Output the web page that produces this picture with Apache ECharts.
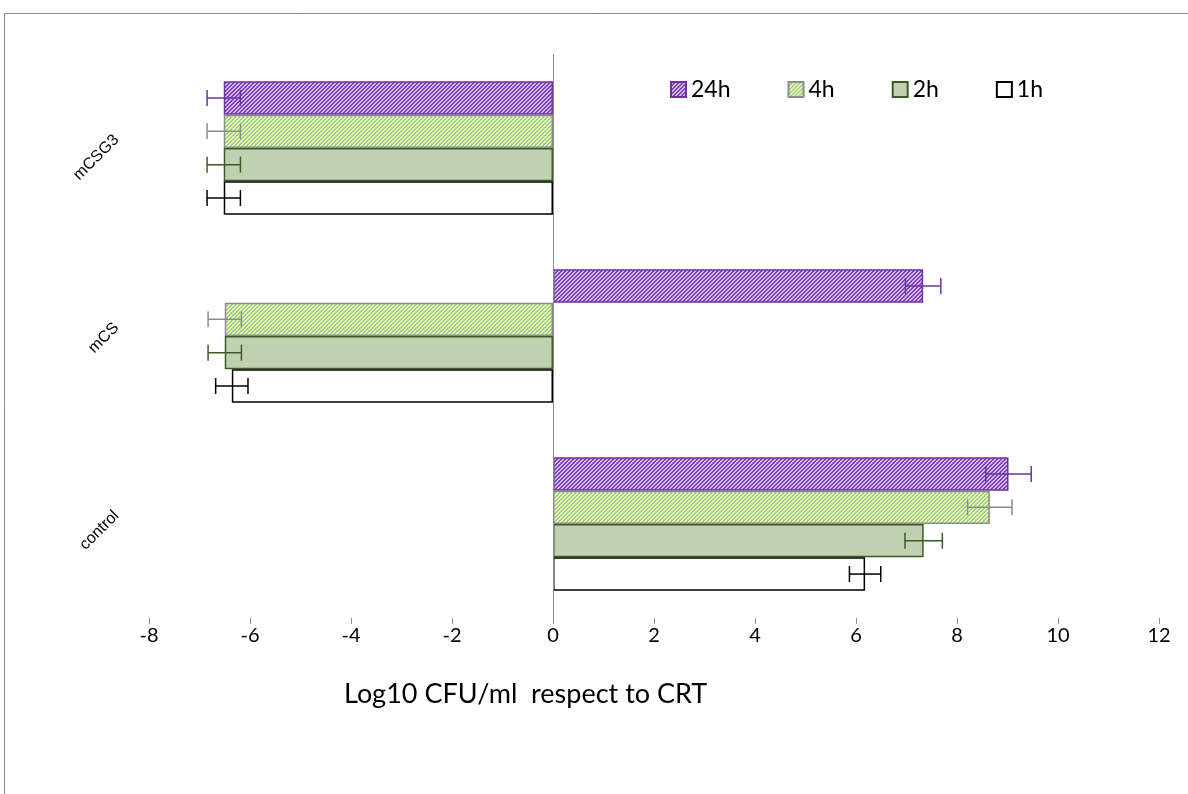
<!DOCTYPE html>
<html>
<head>
<meta charset="utf-8">
<script src="https://cdn.jsdelivr.net/npm/echarts@6/dist/echarts.min.js"></script>
<style>
  html, body { margin: 0; padding: 0; background: #fff; }
  #chart { width: 1188px; height: 794px; }
</style>
</head>
<body>
<div id="chart"></div>
<script>
// categories bottom -> top, as ECharts lays out a category y axis
const categories = ['control', 'mCS', 'mCSG3'];
const timePoints = ['24h', '4h', '2h', '1h'];

const h24 = [9.02, 7.33, -6.52];
const h4 = [8.65, -6.5, -6.52];
const h2 = [7.34, -6.5, -6.52];
const h1 = [6.18, -6.36, -6.52];

const h24Err = [0.45, 0.35, 0.33];
const h4Err = [0.44, 0.33, 0.33];
const h2Err = [0.37, 0.33, 0.33];
const h1Err = [0.31, 0.32, 0.33];

const xTicks = [-8, -6, -4, -2, 0, 2, 4, 6, 8, 10, 12];

const CAT_GAP = 0.29;

// small diagonal hatch used as bar fill
function hatch(bg, fg) {
    const c = document.createElement('canvas');
    c.width = 4;
    c.height = 4;
    const ctx = c.getContext('2d');
    ctx.fillStyle = bg;
    ctx.fillRect(0, 0, 4, 4);
    ctx.fillStyle = fg;
    for (let x = 0; x < 4; x++) {
        ctx.fillRect(x, 3 - x, 1, 1);
        ctx.fillRect(x, (4 - x) % 4, 1, 1);
    }
    return { image: c, repeat: 'repeat' };
}

const styles = {
    '24h': { fill: hatch('#D2BCEB', '#7A3EB8'), border: '#7030A0', err: '#7030A0' },
    '4h': { fill: hatch('#EEF8E4', '#9AD35E'), border: '#8C8C8C', err: '#8C8C8C' },
    '2h': { fill: '#C0D1B1', border: '#3F5A24', err: '#3F5A24' },
    '1h': { fill: '#FFFFFF', border: '#000000', err: '#000000' }
};
const values = { '24h': h24, '4h': h4, '2h': h2, '1h': h1 };
const errors = { '24h': h24Err, '4h': h4Err, '2h': h2Err, '1h': h1Err };

const barSeries = timePoints.map((name, i) => ({
    name: name,
    type: 'bar',
    data: values[name],
    barGap: '0%',
    barCategoryGap: (CAT_GAP * 100) + '%',
    itemStyle: {
        color: styles[name].fill,
        borderColor: styles[name].border,
        borderWidth: 1.5
    },
    emphasis: { disabled: true },
    markLine: i === 0 ? {
        silent: true,
        symbol: ['none', 'none'],
        label: { show: false },
        lineStyle: { color: '#8C8C8C', type: 'solid', width: 1 },
        data: [{ xAxis: 0 }]
    } : undefined,
    z: 2
}));

const errSeries = timePoints.map((name, k) => ({
    name: name + ' err',
    type: 'custom',
    z: 5,
    silent: true,
    encode: { x: 0, y: 1 },
    data: values[name].map((v, c) => [v, c, errors[name][c]]),
    renderItem: function (params, api) {
        const v = api.value(0);
        const cat = api.value(1);
        const e = api.value(2);
        const center = api.coord([v, cat]);
        const band = api.size([0, 1])[1];
        const barH = band * (1 - CAT_GAP) / timePoints.length;
        const y = center[1] - band * (1 - CAT_GAP) / 2 + (k + 0.5) * barH;
        const lo = api.coord([v - e, cat])[0];
        const hi = api.coord([v + e, cat])[0];
        const st = { stroke: styles[name].err, lineWidth: 1.5 };
        return {
            type: 'group',
            children: [
                { type: 'line', shape: { x1: lo, y1: y, x2: hi, y2: y }, style: st },
                { type: 'line', shape: { x1: lo, y1: y - 8, x2: lo, y2: y + 8 }, style: st },
                { type: 'line', shape: { x1: hi, y1: y - 8, x2: hi, y2: y + 8 }, style: st }
            ]
        };
    }
}));

const chart = echarts.init(document.getElementById('chart'));
chart.setOption({
    animation: false,
    backgroundColor: '#ffffff',
    textStyle: { fontFamily: 'Lato' },
    grid: { left: 149, right: 29, top: 54, bottom: 176 },
    legend: {
        data: timePoints,
        left: 670,
        top: 78,
        padding: 0,
        itemWidth: 15,
        itemHeight: 15,
        itemGap: 57,
        icon: 'rect',
        selectedMode: false,
        textStyle: { fontSize: 23, color: '#000', fontFamily: 'Lato' }
    },
    xAxis: {
        type: 'value',
        min: xTicks[0],
        max: xTicks[xTicks.length - 1],
        interval: 2,
        splitLine: { show: false },
        axisLine: { onZero: false, lineStyle: { color: '#8C8C8C', width: 1 } },
        axisTick: { show: true, length: 6, lineStyle: { color: '#8C8C8C' } },
        axisLabel: { color: '#000', fontSize: 20, margin: 8, fontFamily: 'Lato' }
    },
    yAxis: {
        type: 'category',
        data: categories,
        axisLine: { show: false },
        axisTick: { show: false },
        axisLabel: {
            rotate: 45,
            margin: 22,
            verticalAlign: 'bottom',
            lineHeight: 30,
            color: '#000',
            fontSize: 16,
            fontFamily: 'Liberation Sans'
        }
    },
    graphic: [
        {
            type: 'rect',
            left: 2,
            top: 11,
            shape: { width: 1200, height: 800 },
            style: { fill: 'none', stroke: '#8C8C8C', lineWidth: 1 },
            silent: true
        },
        {
            type: 'text',
            left: 344,
            top: 681,
            style: { text: 'Log10 CFU/ml  respect to CRT', fill: '#000', fontSize: 27, fontFamily: 'Lato' }
        }
    ],
    series: barSeries.concat(errSeries)
});
</script>
</body>
</html>
